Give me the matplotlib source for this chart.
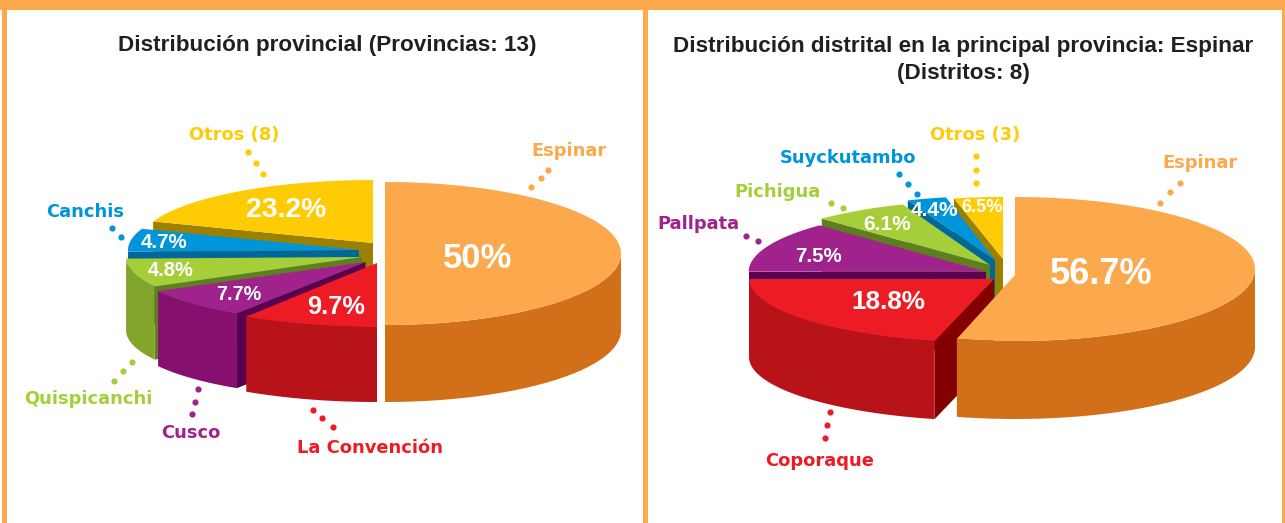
import numpy as np
import matplotlib
matplotlib.use('Agg')
import matplotlib.pyplot as plt

plt.rcParams['font.family'] = ['Liberation Sans', 'DejaVu Sans']

ORANGE = '#FBA94C'
TITLE_COLOR = '#231F20'

# data, order is clockwise from the top of the pie
left_names = ['Espinar', 'La Convención', 'Cusco', 'Quispicanchi', 'Canchis', 'Otros (8)']
left_values = [50, 9.7, 7.7, 4.8, 4.7, 23.2]
right_names = ['Espinar', 'Coporaque', 'Pallpata', 'Pichigua', 'Suyckutambo', 'Otros (3)']
right_values = [56.7, 18.8, 7.5, 6.1, 4.4, 6.5]

left_title = 'Distribución provincial (Provincias: 13)'
right_title = 'Distribución distrital en la principal provincia: Espinar\n(Distritos: 8)'

# colours per slice: top face, outer wall, cut wall
top_cols = ['#FBA94C', '#ED1C24', '#A0228C', '#A6CE39', '#0095DA', '#FFCB05']
side_cols = ['#D2701A', '#B81319', '#870F6F', '#83A42A', '#00679B', '#9C8000']
cut_cols = ['#D2701A', '#820000', '#5A0050', '#5F7F1E', '#00679B', '#9C8000']

# the original pies were skewed by hand, so the sweep needs a correction (degrees)
left_nudge = [0, -1.92, 0.78, 9.72, 4.58, -13.52]
right_nudge = [-10.1, 8.3, 18.5, 1.24, -6.34, -11.6]

# layout of each slice in pixels: tip x, tip y, rx, ry, height
left_geom = [(385, 253.5, 236, 71.5, 77), (377, 263, 240, 64, 75), (365.5, 262, 236, 61, 75),
             (362, 257, 236, 62, 73), (359, 250, 231, 62, 73), (373, 243, 234, 63, 75)]
right_geom = [(1015, 269, 240, 72, 78), (994, 279, 245, 64, 78), (985.7, 271.7, 237, 65, 78),
              (990, 265, 240, 65, 78), (995, 260, 240, 64, 78), (1003, 259, 240, 62, 78)]

left_pct_pos = [(478, 259), (336, 307), (239, 295), (171, 270), (164, 243), (286, 210)]
right_pct_pos = [(1101, 275), (888, 302), (818, 256), (887, 224), (934, 211), (982, 207)]
left_pct_size = [25, 18.3, 14.2, 14.5, 14.8, 20.3]
right_pct_size = [26, 18.8, 14.8, 15, 15, 13]

left_label_pos = [(569, 151), (370, 448), (191, 433), (88, 399), (85, 212), (234, 135)]
right_label_pos = [(1200, 163), (820, 461), (698, 224), (777, 192), (848, 158), (975, 135)]

left_dots = [[(531, 187), (541, 178), (548, 170)], [(313, 410), (322, 418), (333, 427)],
             [(198, 389), (195, 402), (192, 414)], [(132, 362), (123, 371), (114, 381)],
             [(112, 228), (121, 237)], [(248, 152), (256, 163), (263, 174)]]
right_dots = [[(1180, 183), (1170, 192), (1160, 203)], [(830, 412), (827, 425), (825, 438)],
              [(746, 236), (758, 241)], [(831, 203), (843, 208)],
              [(899, 174), (908, 184), (917, 194)], [(976, 156), (976, 170), (976, 183)]]


def arc(cx, cy, rx, ry, t0, t1):
    t = np.radians(np.linspace(t0, t1, 80))
    return cx + rx * np.cos(t), cy - ry * np.sin(t)


def draw_slice(ax, geom, t0, t1, i, tip_dy=0):
    cx, cy, rx, ry, h = geom
    tx, ty = cx, cy + tip_dy
    xs, ys = arc(cx, cy, rx, ry, t0, t1)

    # cut wall on the starting edge, this is the one facing the viewer
    if i > 0:
        ax.fill([tx, xs[0], xs[0], tx], [ty, ys[0], ys[0] + h, ty + h],
                color=cut_cols[i], lw=0, zorder=3)

    # outer wall, only the part of the rim in the front half
    t = np.linspace(t0, t1, 200)
    front = t[np.sin(np.radians(t)) <= 0]
    if len(front) > 1:
        fx, fy = arc(cx, cy, rx, ry, front[0], front[-1])
        ax.fill(np.r_[fx, fx[::-1]], np.r_[fy, fy[::-1] + h],
                color=side_cols[i], lw=0, zorder=3)

    ax.fill(np.r_[tx, xs], np.r_[ty, ys], color=top_cols[i], lw=0, zorder=3)


def draw_pie(ax, values, nudge, geom, order, tip_dy=0):
    angles = [90]
    for v, n in zip(values, nudge):
        angles.append(angles[-1] - v * 3.6 - n)
    for i in order:
        dy = tip_dy if i == 0 else 0
        draw_slice(ax, geom[i], angles[i], angles[i + 1], i, dy)


def draw_texts(ax, names, values, pct_pos, pct_size, label_pos, dots):
    for i in range(len(names)):
        ax.text(pct_pos[i][0], pct_pos[i][1], f'{values[i]:g}%', color='white', fontsize=pct_size[i],
                fontweight='bold', ha='center', va='center', zorder=6)
        ax.text(label_pos[i][0], label_pos[i][1], names[i], color=top_cols[i], fontsize=12.9,
                fontweight='bold', family='DejaVu Sans', ha='center', va='center', zorder=6)
        ax.scatter([d[0] for d in dots[i]], [d[1] for d in dots[i]], s=20, color=top_cols[i], lw=0, zorder=5)


fig = plt.figure(figsize=(12.85, 5.23), dpi=100)
ax = fig.add_axes([0, 0, 1, 1])
ax.set_xlim(0, 1285)
ax.set_ylim(523, 0)
ax.axis('off')

# frame
ax.fill([0, 1285, 1285, 0], [0, 0, 10, 10], color=ORANGE, lw=0)
ax.fill([2, 7, 7, 2], [0, 0, 523, 523], color=ORANGE, lw=0)
ax.fill([643, 648, 648, 643], [0, 0, 523, 523], color=ORANGE, lw=0)
ax.fill([1282, 1285, 1285, 1282], [0, 0, 523, 523], color=ORANGE, lw=0)

draw_pie(ax, left_values, left_nudge, left_geom, [0, 5, 4, 3, 2, 1])
draw_pie(ax, right_values, right_nudge, right_geom, [5, 4, 3, 2, 1, 0], tip_dy=6)

draw_texts(ax, left_names, left_values, left_pct_pos, left_pct_size, left_label_pos, left_dots)
draw_texts(ax, right_names, right_values, right_pct_pos, right_pct_size, right_label_pos, right_dots)

ax.text(327, 46, left_title, color=TITLE_COLOR, fontsize=16.2, fontweight='bold', ha='center', va='center')
ax.text(963, 60, right_title, color=TITLE_COLOR, fontsize=16.2, fontweight='bold', ha='center', va='center',
        linespacing=1.33)

fig.savefig('out.png', dpi=100)
